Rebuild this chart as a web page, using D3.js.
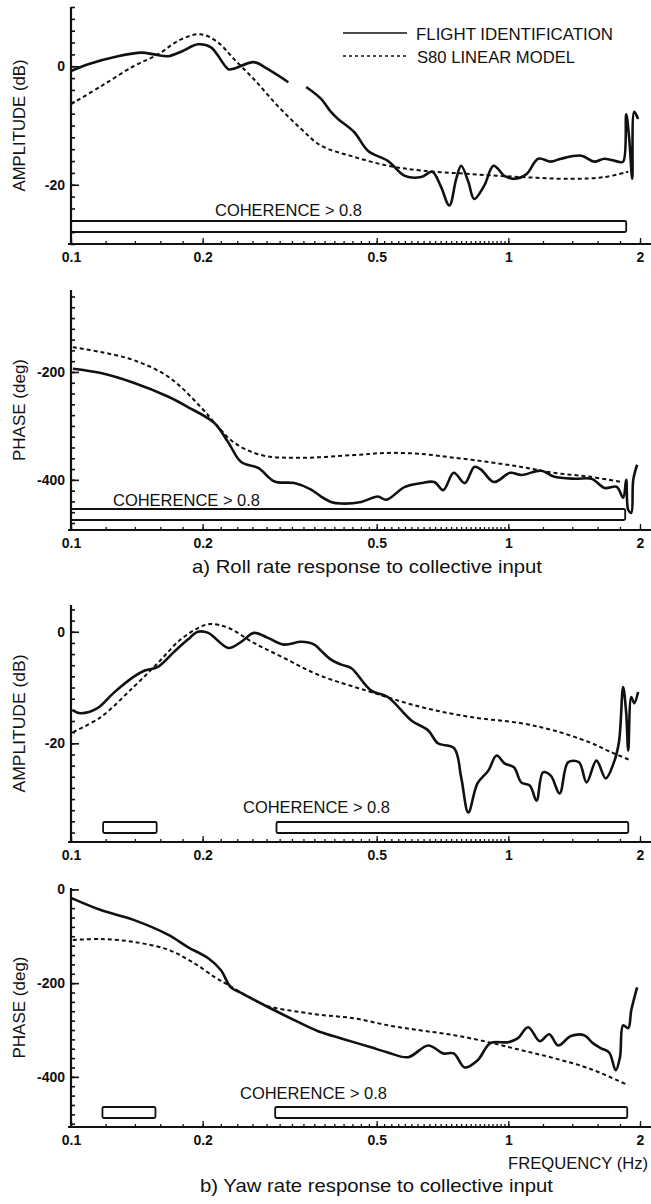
<!DOCTYPE html>
<html>
<head>
<meta charset="utf-8">
<script src="https://cdn.jsdelivr.net/npm/d3@7"></script>
<style>
  body { margin: 0; background: #fff; }
  svg { display: block; }
  text { font-family: "Liberation Sans", Arial, Helvetica, sans-serif; fill: #111; }
</style>
</head>
<body>
<svg id="chart" width="651" height="1204"></svg>
<script>
// ---- data (frequency in Hz) ----

// a) roll rate, amplitude (dB)
var rollAmpFlightF  = [0.100,0.109,0.128,0.145,0.155,0.167,0.179,0.195,0.209,0.229,0.236,0.262,0.282,0.314,0.330,0.345,0.373,0.393,0.408,0.444,0.478,0.531,0.580,0.632,0.670,0.700,0.733,0.760,0.780,0.810,0.835,0.880,0.925,0.980,1.03,1.10,1.17,1.25,1.32,1.47,1.57,1.66,1.78,1.83,1.86,1.89,1.92,1.94,1.98];
var rollAmpFlightDb = [-0.8,0.3,1.7,2.3,2.0,1.7,2.5,3.7,3.2,-0.5,-0.4,0.7,-0.5,-2.7,null,-3.5,-5.5,-7.7,-8.9,-11.1,-14.3,-16.0,-18.5,-18.7,-17.8,-20.2,-23.5,-19.0,-16.8,-19.5,-22.4,-20.2,-16.8,-18.5,-19.0,-18.2,-15.6,-16.1,-15.6,-15.1,-16.1,-15.6,-16.1,-16.1,-8.1,-12.3,-19.0,-7.7,-8.9];
var rollAmpModelF   = [0.100,0.117,0.139,0.158,0.178,0.198,0.217,0.236,0.262,0.297,0.336,0.373,0.444,0.531,0.632,0.820,1.07,1.39,1.66,1.88];
var rollAmpModelDb  = [-6.4,-3.4,0.0,2.0,4.5,5.4,4.0,1.2,-2.2,-6.7,-10.6,-13.4,-15.3,-16.8,-17.6,-18.2,-18.7,-19.0,-18.7,-17.8];

// a) roll rate, phase (deg)
var rollPhFlightF   = [0.101,0.117,0.139,0.167,0.185,0.213,0.229,0.245,0.268,0.292,0.324,0.354,0.373,0.393,0.415,0.461,0.503,0.526,0.580,0.632,0.677,0.710,0.750,0.795,0.836,0.866,0.927,1.01,1.07,1.19,1.27,1.42,1.55,1.66,1.77,1.83,1.86,1.88,1.91,1.93,1.97];
var rollPhFlightDeg = [-194,-202,-220,-246,-265,-295,-331,-367,-378,-403,-406,-418,-431,-441,-444,-441,-431,-437,-413,-406,-404,-419,-387,-406,-376,-381,-404,-387,-391,-383,-394,-398,-398,-415,-413,-433,-400,-456,-461,-400,-372];
var rollPhModelF    = [0.101,0.117,0.139,0.167,0.198,0.217,0.236,0.272,0.336,0.444,0.531,0.632,0.752,0.900,1.07,1.27,1.53,1.81];
var rollPhModelDeg  = [-154,-163,-178,-209,-265,-302,-331,-354,-359,-354,-350,-352,-359,-367,-376,-387,-394,-404];

// b) yaw rate, amplitude (dB)
var yawAmpFlightF   = [0.101,0.105,0.115,0.125,0.139,0.147,0.158,0.172,0.185,0.195,0.206,0.229,0.245,0.262,0.282,0.307,0.336,0.360,0.373,0.393,0.415,0.437,0.485,0.530,0.600,0.656,0.690,0.752,0.780,0.810,0.850,0.900,0.940,0.980,1.03,1.07,1.12,1.16,1.20,1.25,1.31,1.37,1.45,1.51,1.59,1.67,1.74,1.79,1.83,1.86,1.88,1.91,1.94,1.98];
var yawAmpFlightDb  = [-14.1,-14.6,-13.7,-11.0,-8.1,-7.0,-6.3,-3.6,-1.4,0.0,-0.2,-2.9,-1.8,-0.2,-1.1,-2.3,-1.8,-2.3,-3.4,-5.0,-5.9,-6.5,-10.5,-11.7,-15.9,-17.7,-20.0,-20.9,-26.1,-32.4,-27.2,-24.9,-22.2,-23.6,-24.3,-27.0,-27.6,-30.3,-25.2,-25.8,-29.0,-23.4,-23.4,-27.0,-23.1,-26.3,-23.6,-19.8,-9.9,-14.6,-21.3,-11.7,-12.8,-10.8];
var yawAmpModelF    = [0.101,0.117,0.139,0.158,0.178,0.198,0.209,0.229,0.262,0.307,0.367,0.485,0.632,0.820,1.07,1.27,1.53,1.72,1.91];
var yawAmpModelDb   = [-18.0,-15.3,-9.9,-5.6,-1.4,0.9,1.4,0.7,-2.0,-4.7,-7.7,-10.8,-13.5,-15.3,-16.4,-17.7,-19.8,-21.6,-23.1];

// b) yaw rate, phase (deg)
var yawPhFlightF    = [0.100,0.117,0.139,0.167,0.185,0.206,0.220,0.232,0.245,0.282,0.336,0.373,0.415,0.485,0.530,0.590,0.656,0.710,0.750,0.795,0.850,0.910,1.00,1.05,1.11,1.18,1.24,1.30,1.39,1.49,1.56,1.63,1.70,1.76,1.80,1.83,1.88,1.91,1.97];
var yawPhFlightDeg  = [-18,-44,-65,-97,-123,-147,-172,-209,-221,-251,-286,-305,-318,-337,-348,-358,-333,-350,-350,-380,-365,-328,-326,-318,-294,-324,-309,-333,-313,-311,-328,-339,-348,-386,-358,-290,-296,-258,-209];
var yawPhModelF     = [0.101,0.117,0.139,0.167,0.191,0.213,0.229,0.258,0.282,0.336,0.373,0.444,0.530,0.632,0.752,0.900,1.07,1.27,1.53,1.88];
var yawPhModelDeg   = [-108,-106,-112,-129,-157,-187,-204,-232,-249,-262,-268,-275,-290,-301,-311,-326,-343,-360,-382,-418];

// coherence > 0.8 frequency bands [start, end]
var rollAmpCoh = [[0.1, 1.86]];
var rollPhCoh  = [[0.1, 1.85]];
var yawAmpCoh  = [[0.1184, 0.157], [0.295, 1.88]];
var yawPhCoh   = [[0.118, 0.156], [0.293, 1.87]];

// axis ticks
var freqLabels = [0.1, 0.2, 0.5, 1, 2];
var freqMinor  = d3.range(0.1, 0.999, 0.02).concat(d3.range(1, 2.01, 0.2));

var svg = d3.select("#chart");

var x = d3.scaleLog().domain([0.1, 2]).range([71, 640]);

var panels = [
  { top: 7, bottom: 244, domain: [-30, 10], label: "AMPLITUDE (dB)", labelLen: 132,
    major: [0, -20], minor: d3.range(-30, 10.1, 2),
    flight: [rollAmpFlightF, rollAmpFlightDb], model: [rollAmpModelF, rollAmpModelDb],
    coh: rollAmpCoh, cohY: 221, cohText: [215, 216] },
  { top: 290, bottom: 530, domain: [-493, -48], label: "PHASE (deg)", labelLen: 102,
    major: [-200, -400], minor: d3.range(-480, -50, 20),
    flight: [rollPhFlightF, rollPhFlightDeg], model: [rollPhModelF, rollPhModelDeg],
    coh: rollPhCoh, cohY: 509, cohText: [113, 506] },
  { top: 605, bottom: 842, domain: [-37.7, 4.8], label: "AMPLITUDE (dB)", labelLen: 138,
    major: [0, -20], minor: d3.range(-36, 4.1, 2),
    flight: [yawAmpFlightF, yawAmpFlightDb], model: [yawAmpModelF, yawAmpModelDb],
    coh: yawAmpCoh, cohY: 822, cohText: [243, 813] },
  { top: 888, bottom: 1127, domain: [-507, 3], label: "PHASE (deg)", labelLen: 102,
    major: [0, -200, -400], minor: d3.range(-500, 1, 20),
    flight: [yawPhFlightF, yawPhFlightDeg], model: [yawPhModelF, yawPhModelDeg],
    coh: yawPhCoh, cohY: 1107, cohText: [240, 1099] }
];

panels.forEach(function(p) {
  var y = d3.scaleLinear().domain(p.domain).range([p.bottom, p.top]);
  var g = svg.append("g");

  // coherence bands
  g.selectAll("rect.coh").data(p.coh).enter().append("rect")
    .attr("class", "coh")
    .attr("x", function(d) { return x(d[0]); })
    .attr("width", function(d) { return x(d[1]) - x(d[0]); })
    .attr("y", p.cohY).attr("height", 11).attr("rx", 1.5)
    .style("fill", "#fff").style("stroke", "#111").style("stroke-width", 1.8);
  g.append("text")
    .attr("x", p.cohText[0]).attr("y", p.cohText[1])
    .attr("textLength", 147).attr("lengthAdjust", "spacingAndGlyphs")
    .style("font-size", "16.5px")
    .text("COHERENCE > 0.8");

  // y ticks, pointing inward
  var yMinor = d3.axisLeft(y).tickValues(p.minor).tickSize(-4).tickFormat("");
  var yMajor = d3.axisLeft(y).tickValues(p.major).tickSize(-8).tickPadding(6)
    .tickFormat(function(d) { return d === 0 ? "0" : "-" + Math.abs(d); });
  [yMinor, yMajor].forEach(function(ax) {
    var a = g.append("g").attr("transform", "translate(" + x(0.1) + ",0)").call(ax);
    a.select(".domain").remove();
    a.selectAll("line").style("stroke", "#111").style("stroke-width", 1.6);
    a.selectAll("text").style("font-size", "14px").style("font-weight", "bold")
      .style("font-family", "\"Liberation Sans\", Arial, sans-serif").style("fill", "#111");
  });

  // x ticks
  var xMinor = d3.axisBottom(x).tickValues(freqMinor).tickSize(-3).tickFormat("");
  var xMajor = d3.axisBottom(x).tickValues(freqLabels).tickSize(-6).tickPadding(8)
    .tickFormat(d3.format("~g"));
  [xMinor, xMajor].forEach(function(ax) {
    var a = g.append("g").attr("transform", "translate(0," + p.bottom + ")").call(ax);
    a.select(".domain").remove();
    a.selectAll("line").style("stroke", "#111").style("stroke-width", 1.3);
    a.selectAll("text").style("font-size", "14px").style("font-weight", "bold")
      .style("font-family", "\"Liberation Sans\", Arial, sans-serif").style("fill", "#111");
  });

  // axis lines
  g.append("line").attr("x1", x(0.1)).attr("x2", x(0.1)).attr("y1", p.top).attr("y2", p.bottom + 1)
    .style("stroke", "#111").style("stroke-width", 2.2);
  g.append("line").attr("x1", x(0.1) - 3).attr("x2", 651).attr("y1", p.bottom).attr("y2", p.bottom)
    .style("stroke", "#111").style("stroke-width", 2.2);

  // y label
  g.append("text")
    .attr("transform", "translate(25," + (p.top + p.bottom) / 2 + ") rotate(-90)")
    .attr("text-anchor", "middle")
    .attr("textLength", p.labelLen).attr("lengthAdjust", "spacingAndGlyphs")
    .style("font-size", "17px")
    .text(p.label);

  // curves
  var line = d3.line()
    .defined(function(d) { return d[1] != null; })
    .x(function(d) { return x(d[0]); })
    .y(function(d) { return y(d[1]); })
    .curve(d3.curveCatmullRom.alpha(0.5));

  g.append("path")
    .datum(d3.zip(p.model[0], p.model[1]))
    .attr("d", line)
    .style("fill", "none").style("stroke", "#111").style("stroke-width", 2)
    .style("stroke-dasharray", "4,3");

  g.append("path")
    .datum(d3.zip(p.flight[0], p.flight[1]))
    .attr("d", line)
    .style("fill", "none").style("stroke", "#111").style("stroke-width", 2.6)
    .style("stroke-linejoin", "round");
});

// legend
var legend = svg.append("g");
legend.append("line").attr("x1", 343).attr("x2", 407).attr("y1", 33).attr("y2", 33)
  .style("stroke", "#111").style("stroke-width", 1.6);
legend.append("line").attr("x1", 343).attr("x2", 407).attr("y1", 56).attr("y2", 56)
  .style("stroke", "#111").style("stroke-width", 1.6).style("stroke-dasharray", "3,3");
legend.append("text").attr("x", 416).attr("y", 40)
  .attr("textLength", 197).attr("lengthAdjust", "spacingAndGlyphs")
  .style("font-size", "16.5px").text("FLIGHT IDENTIFICATION");
legend.append("text").attr("x", 417).attr("y", 63)
  .attr("textLength", 158).attr("lengthAdjust", "spacingAndGlyphs")
  .style("font-size", "16.5px").text("S80 LINEAR MODEL");

// captions
svg.append("text").attr("x", 192).attr("y", 573)
  .attr("textLength", 350).attr("lengthAdjust", "spacingAndGlyphs")
  .style("font-size", "18.5px").text("a) Roll rate response to collective input");
svg.append("text").attr("x", 508).attr("y", 1169)
  .attr("textLength", 140).attr("lengthAdjust", "spacingAndGlyphs")
  .style("font-size", "17px").text("FREQUENCY (Hz)");
svg.append("text").attr("x", 200).attr("y", 1192)
  .attr("textLength", 353).attr("lengthAdjust", "spacingAndGlyphs")
  .style("font-size", "18.5px").text("b) Yaw rate response to collective input");
</script>
</body>
</html>
